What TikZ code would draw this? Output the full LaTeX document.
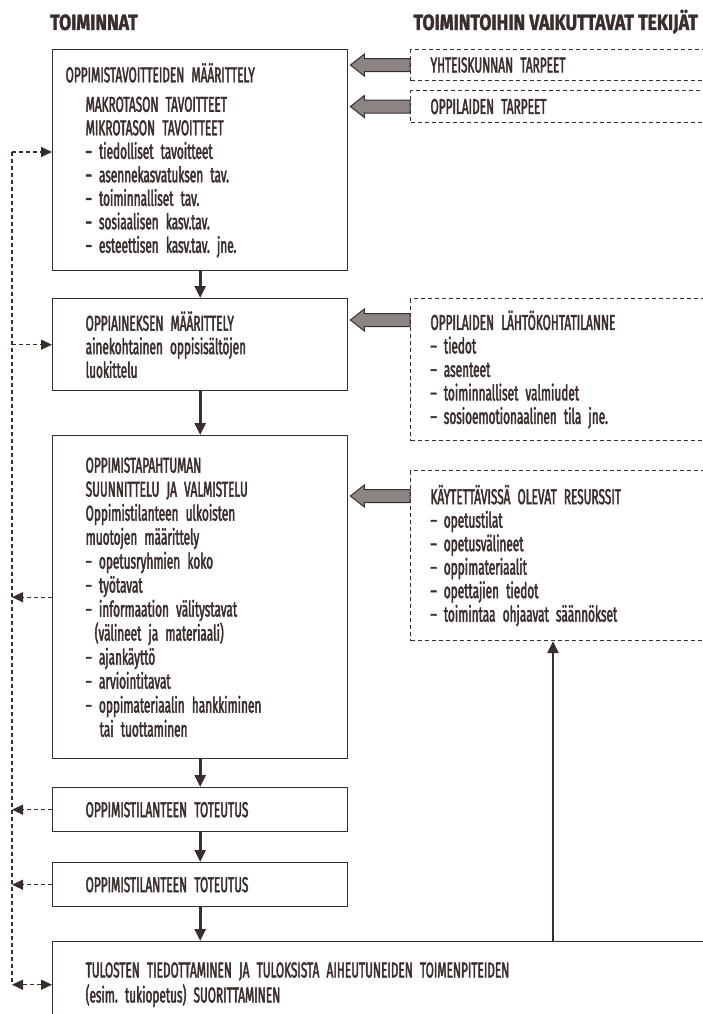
\documentclass[tikz,border=0pt]{standalone}
\usepackage{fontspec}
\setmainfont{Fira Sans}[FakeStretch=0.55, FakeBold=2]
\newfontfamily\headfont{Fira Sans}[FakeStretch=0.8, FakeBold=1.5]
\usetikzlibrary{arrows.meta, calc, positioning}
\frenchspacing
\newcommand{\boxfont}[1]{\fontsize{21.5}{#1}\selectfont\spaceskip=4pt plus 1pt\relax}

\definecolor{ink}{RGB}{58,46,44}
\definecolor{halftone}{RGB}{140,132,130}

\tikzset{
  box/.style={draw=ink, line width=1.4pt, anchor=north west, align=left,
    text width=229pt, inner xsep=33pt, inner ysep=0pt, text=ink,
    font=\boxfont{23.5}},
  factorbox/.style={box, dash pattern=on 4pt off 3pt, line width=1.1pt,
    text width=260pt, inner xsep=20pt},
  head/.style={text=ink, inner sep=0pt, font=\headfont\bfseries\fontsize{22}{24}\selectfont},
  flow/.style={ink, line width=2.6pt, -{Triangle[width=11pt,length=12pt]}},
  fb/.style={ink, line width=1.2pt, dash pattern=on 4pt off 3pt},
  fbtip/.style={-{Triangle[width=10pt,length=11pt]}}
}

% leveä harmaa nuoli tekijästä toimintaan
\newcommand{\fatarrow}[2]{%
  \filldraw[fill=halftone, draw=ink, line width=1pt] let \p1=#1, \p2=(#2.east) in
    (\x1,\y1+6.5pt) -- (\x2+16pt,\y1+6.5pt) -- (\x2+16pt,\y1+11pt) -- (\x2+2pt,\y1)
    -- (\x2+16pt,\y1-11pt) -- (\x2+16pt,\y1-6.5pt) -- (\x1,\y1-6.5pt) -- cycle;}

\begin{document}
\begin{tikzpicture}[x=1pt, y=-1pt]
    \useasboundingbox (0,0) rectangle (703,1014);
    \fill[white] (0,0) rectangle (703,1014);

    % Otsikot
    \node[head, anchor=base west] (hdleft) at (50,30) {TOIMINNAT};
    \node[head, anchor=base east] (hdright) at (698,30) {TOIMINTOIHIN VAIKUTTAVAT TEKIJÄT};

    % Toiminnat
    \node[box, minimum height=221pt, inner xsep=13pt, text width=269pt] (tav) at (52,49) {%
        OPPIMISTAVOITTEIDEN MÄÄRITTELY\\[6pt]
        \hspace*{20pt}MAKROTASON TAVOITTEET\\
        \hspace*{20pt}MIKROTASON TAVOITTEET\\
        \hspace*{20pt}– tiedolliset tavoitteet\\
        \hspace*{20pt}– asennekasvatuksen tav.\\
        \hspace*{20pt}– toiminnalliset tav.\\
        \hspace*{20pt}– sosiaalisen kasv.tav.\\
        \hspace*{20pt}– esteettisen kasv.tav. jne.};
    \node[box, minimum height=92pt] (opp) at (52,298) {%
        OPPIAINEKSEN MÄÄRITTELY\\
        ainekohtainen oppisisältöjen\\
        luokittelu};
    \node[box, minimum height=323pt, font=\boxfont{24}] (suu) at (52,435) {%
        OPPIMISTAPAHTUMAN\\
        SUUNNITTELU JA VALMISTELU\\
        Oppimistilanteen ulkoisten\\
        muotojen määrittely\\
        – opetusryhmien koko\\
        – työtavat\\
        – informaation välitystavat\\
        \hspace*{9pt}(välineet ja materiaali)\\
        – ajankäyttö\\
        – arviointitavat\\
        – oppimateriaalin hankkiminen\\
        \hspace*{14pt}tai tuottaminen};
    \node[box, minimum height=44pt] (tot1) at (52,787) {OPPIMISTILANTEEN TOTEUTUS};
    \node[box, minimum height=44pt] (tot2) at (52,862) {OPPIMISTILANTEEN TOTEUTUS};
    \node[box, minimum height=86pt, text width=634pt, font=\boxfont{25}] (tul) at (52,941) {%
        TULOSTEN TIEDOTTAMINEN JA TULOKSISTA AIHEUTUNEIDEN TOIMENPITEIDEN\\
        (esim. tukiopetus) SUORITTAMINEN};

    % Tekijät
    \node[factorbox, minimum height=31pt] (yht) at (410,49) {YHTEISKUNNAN TARPEET};
    \node[factorbox, minimum height=32pt] (opl) at (410,90) {OPPILAIDEN TARPEET};
    \node[factorbox, minimum height=142pt] (lah) at (410,298) {%
        OPPILAIDEN LÄHTÖKOHTATILANNE\\
        – tiedot\\
        – asenteet\\
        – toiminnalliset valmiudet\\
        – sosioemotionaalinen tila jne.};
    \node[factorbox, minimum height=170pt] (res) at (410,470) {%
        KÄYTETTÄVISSÄ OLEVAT RESURSSIT\\
        – opetustilat\\
        – opetusvälineet\\
        – oppimateriaalit\\
        – opettajien tiedot\\
        – toimintaa ohjaavat säännökset};

    % Tekijöiden vaikutus
    \fatarrow{(yht.west)}{tav}
    \fatarrow{(opl.west)}{tav}
    \fatarrow{($(lah.north west)+(0,22)$)}{opp}
    \fatarrow{($(res.north west)+(0,26)$)}{suu}

    % Etenemisjärjestys
    \draw[flow] (tav.south) -- (opp.north);
    \draw[flow] (opp.south) -- (suu.north);
    \draw[flow] (suu.south) -- (tot1.north);
    \draw[flow] (tot1.south) -- (tot2.north);
    \draw[flow] (tot2.south) -- (tot2.south |- tul.north);
    \coordinate (upx) at (553,0);
    \draw[flow] (tul.north -| upx) -- (res.south -| upx);

    % Palaute
    \coordinate (fbtop) at (12,152);
    \draw[fb] (fbtop) -- (fbtop |- tul.west);
    \draw[fb, fbtip] (fbtop) -- (tav.west |- fbtop);
    \draw[fb, fbtip] (fbtop |- opp.west) -- (opp.west);
    \draw[fb, fbtip] (suu.west) -- (fbtop |- suu.west);
    \draw[fb, fbtip] (tot1.west) -- (fbtop |- tot1.west);
    \draw[fb, fbtip] (tot2.west) -- (fbtop |- tot2.west);
    \draw[fb, {Triangle[width=10pt,length=11pt]}-{Triangle[width=10pt,length=11pt]}]
        (fbtop |- tul.west) -- (tul.west);
\end{tikzpicture}
\end{document}
